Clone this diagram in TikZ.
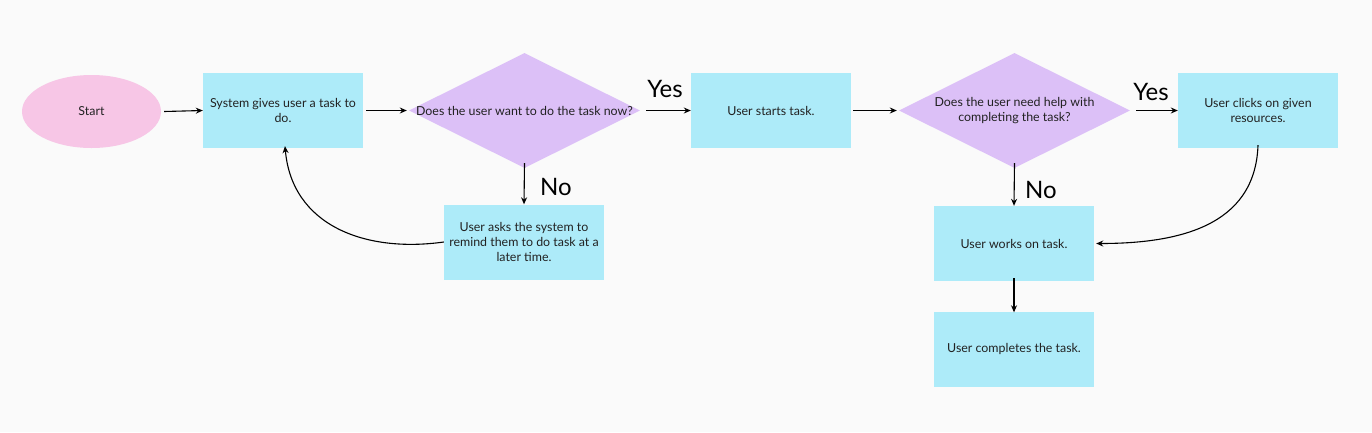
\documentclass[tikz,border=0pt]{standalone}
\usepackage{fontspec}
\setmainfont{Lato}
\usetikzlibrary{shapes.geometric,arrows.meta}
\definecolor{bgc}{HTML}{FAFAFA}
\definecolor{boxc}{HTML}{ADEBF9}
\definecolor{dmc}{HTML}{DCC0F7}
\definecolor{pinkc}{HTML}{F7C6E6}
\definecolor{txtc}{HTML}{222222}
\begin{document}
\begin{tikzpicture}[x=1pt,y=-1pt,
  txt/.style={font=\fontsize{12.4}{15}\selectfont, text=txtc, align=center, inner sep=0},
  stepbox/.style={rectangle, fill=boxc, minimum width=160pt, minimum height=75pt, inner sep=0, txt},
  startnode/.style={ellipse, fill=pinkc, minimum width=139pt, minimum height=73pt, inner sep=0, txt},
  dm/.style={diamond, fill=dmc, minimum width=231pt, minimum height=115pt, inner sep=0},
  yn/.style={font=\fontsize{24}{26}\selectfont, text=black, inner sep=0},
  arr/.style={-{Stealth[length=7pt,width=6pt]}, line width=1.1pt, black}]
\fill[bgc] (0,0) rectangle (1372,432);
\useasboundingbox (0,0) rectangle (1372,432);

\node[startnode] (start) at (91.5,111.5) {Start};
\node[stepbox] (sys) at (283,110.5) {System gives user a task to\\do.};
\node[dm] (d1) at (524.5,110.5) {};
\node[txt] (d1t) at (d1.center) {Does the user want to do the task now?};
\node[stepbox] (starts) at (771,110.5) {User starts task.};
\node[dm] (d2) at (1014.5,110.5) {};
\node[txt] (d2t) at (1014.5,111) {Does the user need help with\\completing the task?};
\node[stepbox] (res) at (1258,110.5) {User clicks on given\\resources.};
\node[stepbox] (ask) at (524,242) {User asks the system to\\remind them to do task at a\\later time.};
\node[stepbox] (works) at (1014,243.5) {User works on task.};
\node[stepbox] (done) at (1014,349) {User completes the task.};

\node[yn] (yes1) at (665,89) {Yes};
\node[yn] (yes2) at (1151,92) {Yes};
\node[yn] (no1) at (556,187) {No};
\node[yn] (no2) at (1041,190) {No};

\draw[arr] ([xshift=3pt]start.east) -- (sys.west);
\draw[arr] ([xshift=3pt]sys.east) -- ([xshift=-2pt]d1.west);
\draw[arr] ([xshift=6pt]d1.east) -- (starts.west);
\draw[arr] ([xshift=2pt]starts.east) -- ([xshift=-2pt]d2.west);
\draw[arr] ([xshift=6pt]d2.east) -- (res.west);
\draw[arr] ([yshift=5pt]d1.south) -- (ask.north);
\draw[arr] ([yshift=5pt]d2.south) -- (works.north);
\draw[arr] ([yshift=3pt]works.south) -- ([yshift=-1pt]done.north);
\draw[arr] (ask.west) to[out=188, in=-85, looseness=1.1] ([xshift=2pt,yshift=2pt]sys.south);
\draw[arr] ([yshift=3pt]res.south) to[out=-92, in=0, looseness=1.1] ([xshift=2pt]works.east);
\end{tikzpicture}
\end{document}
